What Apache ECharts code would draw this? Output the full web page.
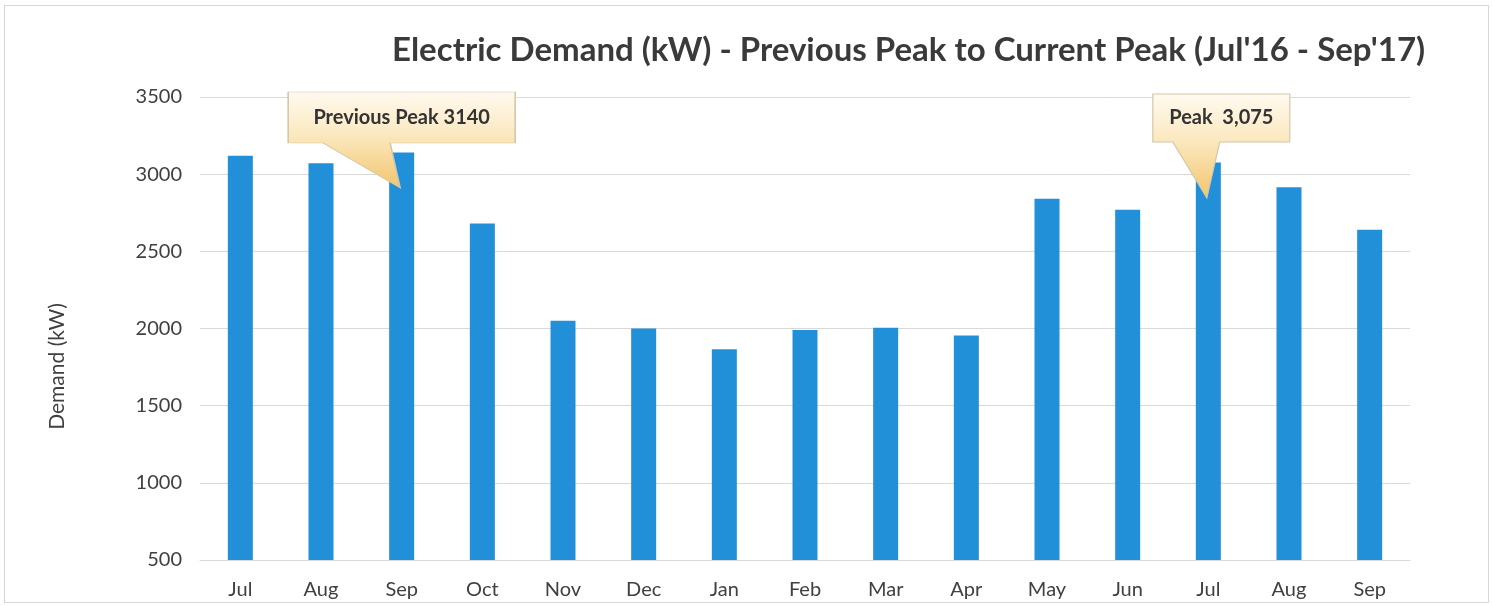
<!DOCTYPE html>
<html>
<head>
<meta charset="utf-8">
<script src="https://cdn.jsdelivr.net/npm/echarts@6/dist/echarts.min.js"></script>
<style>
  html, body { margin: 0; padding: 0; background: #fff; }
  #chart { width: 1493px; height: 606px; }
  #frame { position: absolute; left: 4px; top: 5px; width: 1483px; height: 596px; border: 1px solid #d6d6d6; pointer-events: none; }
</style>
</head>
<body>
<div id="chart"></div>
<div id="frame"></div>
<script>
// Monthly peak demand, Jul'16 - Sep'17
const months = ['Jul', 'Aug', 'Sep', 'Oct', 'Nov', 'Dec', 'Jan', 'Feb', 'Mar', 'Apr', 'May', 'Jun', 'Jul', 'Aug', 'Sep'];
const demand = [3120, 3070, 3140, 2680, 2050, 2000, 1865, 1990, 2005, 1955, 2840, 2770, 3075, 2915, 2640];
const yTicks = { min: 500, max: 3500, step: 500 };

// callouts: [category index, label]
const prevPeak = [2, 'Previous Peak 3140'];
const currPeak = [12, 'Peak  3,075'];

const font = 'Lato, "Open Sans", sans-serif';
const chart = echarts.init(document.getElementById('chart'));

const calloutFill = new echarts.graphic.LinearGradient(0, 0, 0, 1, [
  { offset: 0, color: '#fffaf0' },
  { offset: 0.45, color: '#fbe8bf' },
  { offset: 1, color: '#f3c56c' }
]);

chart.setOption({
  backgroundColor: '#fff',
  title: {
    text: "Electric Demand (kW) - Previous Peak to Current Peak (Jul'16 - Sep'17)",
    left: 387,
    top: 29,
    textStyle: { fontFamily: font, fontWeight: 'bold', fontSize: 33, color: '#3a3a3a' }
  },
  grid: { left: 200, right: 83, top: 97, bottom: 46 },
  xAxis: {
    type: 'category',
    data: months,
    axisTick: { show: false },
    axisLine: { lineStyle: { color: '#d9d9d9' } },
    axisLabel: { margin: 20, fontFamily: font, fontSize: 20, color: '#404040' }
  },
  yAxis: {
    type: 'value',
    min: yTicks.min,
    max: yTicks.max,
    interval: yTicks.step,
    name: 'Demand (kW)',
    nameLocation: 'middle',
    nameGap: 132,
    nameTextStyle: { fontFamily: font, fontSize: 21, color: '#404040', padding: [0, 76, 0, 0] },
    axisLine: { show: false },
    axisTick: { show: false },
    splitLine: { lineStyle: { color: '#d9d9d9' } },
    axisLabel: { margin: 18, fontFamily: font, fontSize: 20, color: '#404040', formatter: v => String(v) }
  },
  series: [{
    type: 'bar',
    data: demand,
    barWidth: 25,
    itemStyle: { color: '#228fd9' },
    markPoint: {
      silent: true,
      label: {
        show: true,
        position: 'inside',
        fontFamily: font,
        fontWeight: 'bold',
        fontSize: 20,
        color: '#333'
      },
      itemStyle: { color: calloutFill, borderColor: '#d2c6aa', borderWidth: 1 },
      data: [
        {
          coord: [prevPeak[0], demand[prevPeak[0]]],
          symbol: 'path://M0 0 L227 0 L227 51 L102 51 L112 96 L35 51 L0 51 Z',
          symbolSize: [227, 96],
          symbolOffset: [0, -12.6],
          label: { formatter: prevPeak[1], offset: [0, -22.5] }
        },
        {
          coord: [currPeak[0], demand[currPeak[0]]],
          symbol: 'path://M0 0 L137 0 L137 48 L67 48 L54 104 L20 48 L0 48 Z',
          symbolSize: [137, 104],
          symbolOffset: [13, -16.6],
          label: { formatter: currPeak[1], offset: [0, -28] }
        }
      ]
    }
  }],
  animation: false
});
</script>
</body>
</html>
